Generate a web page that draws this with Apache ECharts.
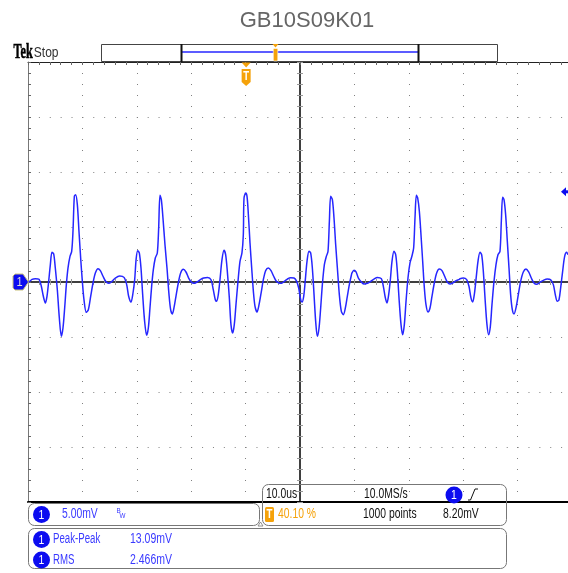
<!DOCTYPE html>
<html><head><meta charset="utf-8">
<script src="https://cdn.jsdelivr.net/npm/echarts@6/dist/echarts.min.js"></script>
<style>html,body{margin:0;padding:0;background:#fff;overflow:hidden}#c{width:568px;height:573px}</style>
</head><body><div id="c"></div>
<script>
// ---------- data ----------
const titleText = 'GB10S09K01';
// time in µs from the start of the 100 µs record (10 µs/div)
const timeUs = [
 0,0.31,0.74,1.35,2.02,2.45,2.82,3.19,3.49,3.80,4.11,4.41,4.72,5.02,5.39,5.76,6.13,6.43,6.74,7.05,
 7.35,7.72,8.03,8.27,8.52,8.76,9.07,9.37,9.68,9.99,10.29,10.72,11.09,11.52,11.95,12.38,12.87,13.30,13.79,14.28,
 14.83,15.44,16.05,16.85,17.65,18.14,18.50,18.93,19.30,19.61,
 19.88,20.16,20.46,20.77,21.08,21.44,21.81,22.12,22.42,22.73,23.04,23.40,23.77,24.02,24.26,24.51,24.81,25.18,25.55,25.92,
 26.22,26.53,26.83,27.20,27.63,28.06,28.55,29.04,29.53,30.02,30.51,31.06,31.68,32.29,33.02,33.64,34.06,34.43,34.68,34.98,
 35.29,35.66,36.03,36.33,36.64,37.01,37.31,37.62,37.92,38.23,38.60,38.97,39.33,39.58,
 39.71,40.02,40.26,40.51,40.81,41.12,41.43,41.73,42.10,42.47,42.90,43.26,43.69,44.18,44.67,45.16,45.65,46.14,46.63,47.12,
 47.68,48.29,48.90,49.39,49.76,50.13,50.37,50.68,50.98,51.29,51.66,51.96,52.27,52.58,52.88,53.19,53.50,53.80,54.11,54.48,
 54.84,55.15,55.40,55.64,55.95,56.25,56.56,56.87,57.23,57.60,57.97,58.34,58.70,59.07,59.44,
 59.56,59.93,60.30,60.79,61.28,61.77,62.38,62.99,63.60,64.22,64.95,65.32,65.69,65.99,66.30,66.61,66.91,67.28,67.59,67.89,
 68.20,68.57,68.87,69.18,69.49,69.85,70.22,70.59,70.89,71.14,71.39,71.63,71.94,72.24,72.55,72.86,73.16,73.53,73.90,74.26,
 74.69,75.12,75.61,76.10,76.59,77.08,77.57,78.06,78.68,79.29,
 79.41,80.02,80.64,81.06,81.43,81.74,82.04,82.35,82.72,83.09,83.39,83.70,84.01,84.37,84.68,84.99,85.29,85.66,86.03,86.39,
 86.76,87.01,87.25,87.50,87.80,88.11,88.42,88.72,89.03,89.34,89.70,90.13,90.56,91.05,91.54,92.03,92.52,93.01,93.50,94.11,
 94.73,95.46,96.08,96.57,96.93,97.30,97.61,97.91,98.28,98.65,99.02,99.26
];
// channel 1 voltage in mV (5 mV/div)
const voltageMv = [
 0,0.06,0.24,0.30,0.24,-0.39,-1.30,-1.91,-1.30,0.06,1.58,2.70,2.55,1.27,-0.70,-3.27,-4.94,-4.18,-2.36,-0.24,
 1.27,2.33,2.79,4.61,7.79,7.94,7.03,4.61,2.18,0.06,-1.61,-2.76,-2.52,-1.30,-0.09,0.82,1.21,1.03,0.52,0.06,
 -0.12,0.06,0.36,0.55,0.42,-0.24,-1.30,-1.82,-1.00,0.21,
 2.10,2.85,2.64,1.27,-1.15,-3.58,-4.85,-4.18,-2.36,-0.39,1.12,2.18,2.64,4.91,7.88,7.48,5.82,3.39,1.27,-1.15,
 -2.52,-2.91,-2.36,-1.30,-0.09,0.82,1.15,0.91,0.36,0,-0.12,0,0.21,0.36,0.42,0.21,-0.70,-1.61,-1.76,-1.15,
 0.21,2.03,2.88,2.48,0.97,-1.45,-3.88,-4.64,-3.88,-2.06,0.06,1.88,2.64,4.30,
 7.64,8.09,7.79,6.12,3.55,1.27,-0.85,-2.21,-2.73,-2.06,-0.85,0.21,1.03,1.27,1.03,0.52,0.06,-0.09,-0.12,0.06,
 0.27,0.39,0.36,0.06,-0.55,-1.61,-1.82,-1.30,0.21,1.88,2.79,2.64,1.27,-1.15,-3.58,-4.94,-4.18,-2.36,-0.24,1.58,
 2.33,2.79,5.52,7.79,7.48,5.82,3.39,1.27,-1.15,-2.67,-2.97,-2.36,-1.30,-0.24,0.61,
 0.82,1.06,0.91,0.30,0,-0.18,-0.12,0.06,0.27,0.42,0.30,-0.39,-1.45,-1.91,-1.15,0.21,1.88,2.79,2.48,0.97,
 -1.45,-3.88,-4.79,-3.88,-1.76,0.36,1.73,2.39,3.09,5.82,7.88,7.64,6.42,4.30,1.88,-0.55,-2.06,-2.73,-2.36,-1.30,
 -0.09,0.82,1.18,1.03,0.52,0,-0.18,-0.09,0.12,0.24,
 0.30,0.36,0.21,-0.39,-1.45,-1.82,-1.15,0.21,1.88,2.70,2.48,0.97,-1.45,-3.88,-4.79,-4.03,-2.06,0.06,1.58,2.48,
 2.79,5.52,7.70,7.48,6.12,3.70,1.27,-1.15,-2.52,-2.91,-2.36,-1.15,0.06,0.91,1.18,0.91,0.36,-0.09,-0.21,-0.03,
 0.15,0.27,0.21,-0.24,-1.15,-1.76,-1.61,-0.55,0.97,2.33,2.70,2.48
];
const timeRange = [0, 100];     // µs, 10 divisions
const voltRange = [-20, 20];    // mV, 8 divisions
const triggerPosUs = 40.1;
const triggerLevelMv = 8.2;
const scaleLabel = '5.00mV';
const timebaseLabels = ['10.0us', '10.0MS/s'];
const acqLabels = ['40.10 %', '1000 points', '8.20mV'];
const measNames = ['Peak-Peak', 'RMS'];
const measValues = ['13.09mV', '2.466mV'];

// ---------- styling ----------
const TRACE = '#2626ff';
const BLUE_TXT = '#3a3aff';
const BLUE_FILL = '#0c0cf0';
const ORANGE = '#f5a20a';
const FONT = '"Liberation Sans", Arial, sans-serif';

const chart = echarts.init(document.getElementById('c'), null, {renderer: 'canvas'});
const G = {left: 28, top: 62, width: 544, height: 440};

function hAxis(extra) {
  return Object.assign({type: 'value', gridIndex: 0, axisLabel: {show: false}, splitLine: {show: false}}, extra);
}
const option = {
  animation: false,
  backgroundColor: '#fff',
  title: {text: titleText, left: 302, top: 5, textAlign: 'center',
    textStyle: {fontFamily: FONT, fontSize: 22, fontWeight: 'normal', color: '#666'}},
  grid: [Object.assign({outerBoundsMode: 'none', containLabel: false}, G)],
  xAxis: [
    hAxis({min: timeRange[0], max: timeRange[1], interval: 10, position: 'bottom',
      axisLine: {show: true, onZero: false, lineStyle: {color: '#000', width: 2}},
      axisTick: {show: false},
      splitLine: {show: true, lineStyle: {color: '#808080', width: 1, type: [1, 10]}}}),
    hAxis({min: timeRange[0], max: timeRange[1], interval: 2, position: 'top',
      axisLine: {show: true, onZero: false, lineStyle: {color: '#222', width: 1}},
      axisTick: {show: true, inside: true, length: 3, lineStyle: {color: '#666'}}}),
    hAxis({min: -50, max: 50, interval: 2, position: 'bottom',
      axisLine: {show: true, onZero: true, onZeroAxisIndex: 0, lineStyle: {color: '#333', width: 1.5}},
      axisTick: {show: true, inside: true, length: 3, lineStyle: {color: '#999'}}}),
    hAxis({min: -50, max: 50, interval: 2, position: 'bottom',
      axisLine: {show: true, onZero: true, onZeroAxisIndex: 0, lineStyle: {color: '#333', width: 1.5}},
      axisTick: {show: true, inside: false, length: 3, lineStyle: {color: '#999'}}})
  ],
  yAxis: [
    hAxis({min: voltRange[0], max: voltRange[1], interval: 5, position: 'left',
      axisLine: {show: true, onZero: false, lineStyle: {color: '#777', width: 1}},
      axisTick: {show: false},
      splitLine: {show: true, lineStyle: {color: '#808080', width: 1, type: [1, 9.88]}}}),
    hAxis({min: voltRange[0], max: voltRange[1], interval: 1, position: 'left',
      axisLine: {show: false, onZero: false},
      axisTick: {show: true, inside: true, length: 3, lineStyle: {color: '#666'}}}),
    hAxis({min: voltRange[0], max: voltRange[1], interval: 1, position: 'left',
      axisLine: {show: true, onZero: true, onZeroAxisIndex: 2, lineStyle: {color: '#333', width: 1.5}},
      axisTick: {show: true, inside: true, length: 3, lineStyle: {color: '#999'}}}),
    hAxis({min: voltRange[0], max: voltRange[1], interval: 1, position: 'left',
      axisLine: {show: true, onZero: true, onZeroAxisIndex: 2, lineStyle: {color: '#333', width: 1.5}},
      axisTick: {show: true, inside: false, length: 3, lineStyle: {color: '#999'}}})
  ],
  series: [{
    type: 'line', xAxisIndex: 0, yAxisIndex: 0, z: 10, silent: true,
    data: timeUs.map((t, i) => [t, voltageMv[i]]),
    showSymbol: false, smooth: 0.3,
    lineStyle: {color: TRACE, width: 1.5}
  }]
};
chart.setOption(option);

// ---------- scope decorations ----------
const px = chart.convertToPixel({xAxisIndex: 0, yAxisIndex: 0}, [triggerPosUs, 0]);
const trigX = px[0], zeroY = px[1];
const trigLvlY = chart.convertToPixel({xAxisIndex: 0, yAxisIndex: 0}, [0, triggerLevelMv])[1];

function txt(x, y, s, color, size, sx, extra) {
  return Object.assign({type: 'text', x: x, y: y, scaleX: sx == null ? 0.74 : sx, z: 100,
    style: {text: s, x: 0, y: 0, fill: color, font: size + 'px ' + FONT,
      textAlign: 'left', textVerticalAlign: 'middle', align: 'left', verticalAlign: 'middle'}}, extra || {});
}
function badge(cx, cy, r) {
  return [
    {type: 'circle', z: 100, shape: {cx: cx, cy: cy, r: r}, style: {fill: BLUE_FILL}},
    {type: 'text', z: 101, x: cx, y: cy + 0.5, scaleX: 0.8,
      style: {text: '1', x: 0, y: 0, fill: '#fff', font: '13px ' + FONT,
        textAlign: 'center', textVerticalAlign: 'middle', align: 'center', verticalAlign: 'middle'}}
  ];
}
function box(x, y, w, h) {
  return {type: 'rect', z: 90, shape: {x: x, y: y, width: w, height: h, r: 6},
    style: {fill: 'none', stroke: '#777', lineWidth: 1}};
}

const g = [];
// Tek Stop
g.push({type: 'text', x: 13.5, y: 52.5, scaleX: 0.58, z: 100,
  style: {text: 'Tek', x: 0, y: 0, fill: '#000', stroke: '#000', lineWidth: 0.6, font: 'bold 21px "Liberation Serif", serif',
    textAlign: 'left', textVerticalAlign: 'middle', align: 'left', verticalAlign: 'middle'}});
g.push(txt(33.8, 53, 'Stop', '#333', 14, 0.86));
// record bar
g.push({type: 'rect', z: 95, shape: {x: 101.5, y: 44.5, width: 396, height: 17}, style: {fill: '#fff', stroke: '#444', lineWidth: 1}});
g.push({type: 'line', z: 96, shape: {x1: 182, y1: 52, x2: 418, y2: 52}, style: {stroke: TRACE, lineWidth: 1.5}});
g.push({type: 'line', z: 96, shape: {x1: 181.5, y1: 44, x2: 181.5, y2: 62}, style: {stroke: '#111', lineWidth: 2}});
g.push({type: 'line', z: 96, shape: {x1: 418.5, y1: 44, x2: 418.5, y2: 62}, style: {stroke: '#111', lineWidth: 2}});
g.push({type: 'polygon', z: 97, shape: {points: [[272.5, 44], [278.5, 44], [275.5, 47.5]]}, style: {fill: ORANGE}});
g.push({type: 'rect', z: 97, shape: {x: 273.3, y: 48.5, width: 4.5, height: 12.5, r: 1}, style: {fill: ORANGE, stroke: '#fff', lineWidth: 0.6}});
// trigger position marker
g.push({type: 'polygon', z: 97, shape: {points: [[trigX - 4.5, 62.5], [trigX + 4.5, 62.5], [trigX, 67.5]]}, style: {fill: ORANGE}});
g.push({type: 'polygon', z: 97, shape: {points: [[trigX - 4.5, 69], [trigX + 4.5, 69], [trigX + 4.5, 82], [trigX, 86], [trigX - 4.5, 82]]},
  style: {fill: ORANGE}});
g.push({type: 'text', z: 98, x: trigX, y: 76.5, scaleX: 0.8,
  style: {text: 'T', x: 0, y: 0, fill: '#fff', font: 'bold 12px ' + FONT, textAlign: 'center', textVerticalAlign: 'middle', align: 'center', verticalAlign: 'middle'}});
// channel ground marker
g.push({type: 'polygon', z: 97, shape: {points: [[15, zeroY - 8], [23, zeroY - 8], [28.5, zeroY], [23, zeroY + 8], [15, zeroY + 8], [13, zeroY + 6], [13, zeroY - 6]]},
  style: {fill: BLUE_FILL, stroke: '#c9c27a', lineWidth: 1}});
g.push({type: 'text', z: 98, x: 19.5, y: zeroY + 0.5, scaleX: 0.85,
  style: {text: '1', x: 0, y: 0, fill: '#ddd', font: '13px ' + FONT, textAlign: 'center', textVerticalAlign: 'middle', align: 'center', verticalAlign: 'middle'}});
// trigger level marker
g.push({type: 'polygon', z: 97, shape: {points: [[561, trigLvlY], [566, trigLvlY - 4.5], [566, trigLvlY + 4.5]]}, style: {fill: BLUE_FILL}});
g.push({type: 'rect', z: 97, shape: {x: 565, y: trigLvlY - 1.5, width: 4, height: 3}, style: {fill: BLUE_FILL}});

// bottom readout boxes
g.push(box(28.5, 503.5, 231, 22));
g.push(box(262.5, 484.5, 244, 41));
g.push(box(28.5, 528.5, 478, 40));
g.push({type: 'polygon', z: 99, shape: {points: [[260.5, 522], [258, 526], [263, 526]]}, style: {fill: '#fff', stroke: '#777', lineWidth: 0.8}});
// channel scale
g.push(...badge(41.5, 514.5, 8.5));
g.push(txt(62, 514.5, scaleLabel, BLUE_TXT, 14));
g.push(txt(116.5, 511, 'B', BLUE_TXT, 7, 0.9));
g.push(txt(119.5, 516, 'W', BLUE_TXT, 7, 0.9));
// timebase
g.push(txt(266, 494.5, timebaseLabels[0], '#111', 14));
g.push(txt(364, 494.5, timebaseLabels[1], '#111', 14));
g.push(...badge(454, 495, 8.5));
g.push({type: 'polyline', z: 100, shape: {points: [[468, 500], [470.5, 500], [475, 489], [478, 489]]}, style: {stroke: '#111', lineWidth: 1, fill: 'none'}});
g.push({type: 'rect', z: 100, shape: {x: 265, y: 507, width: 9, height: 15, r: 1.5}, style: {fill: ORANGE}});
g.push({type: 'text', z: 101, x: 269.5, y: 514.5, scaleX: 0.8,
  style: {text: 'T', x: 0, y: 0, fill: '#fff', font: 'bold 12px ' + FONT, textAlign: 'center', textVerticalAlign: 'middle', align: 'center', verticalAlign: 'middle'}});
g.push(txt(278, 514.5, acqLabels[0], ORANGE, 14));
g.push(txt(363, 514.5, acqLabels[1], '#111', 14));
g.push(txt(443, 514.5, acqLabels[2], '#111', 14));
// measurements
g.push(...badge(41.5, 539.5, 8.5));
g.push(...badge(41.5, 560, 8.5));
g.push(txt(53, 539.5, measNames[0], BLUE_TXT, 14, 0.69));
g.push(txt(53, 560, measNames[1], BLUE_TXT, 14, 0.69));
g.push(txt(130, 539.5, measValues[0], BLUE_TXT, 14, 0.75));
g.push(txt(130, 560, measValues[1], BLUE_TXT, 14, 0.75));

chart.setOption({graphic: g});
</script>
</body></html>
